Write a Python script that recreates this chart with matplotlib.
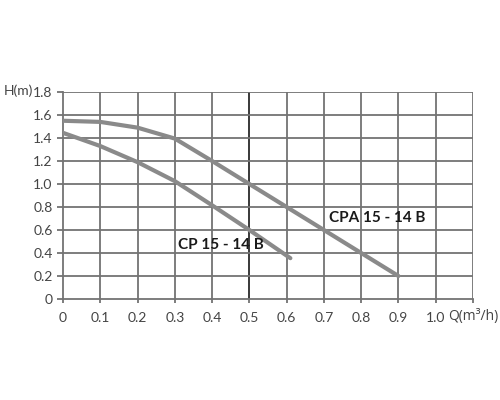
import matplotlib
matplotlib.use("Agg")
import matplotlib.pyplot as plt

# Data
cpa_q = [0.0, 0.1, 0.2, 0.3, 0.4, 0.5, 0.6, 0.7, 0.8, 0.9]
cpa_h = [1.55, 1.54, 1.49, 1.395, 1.2, 1.0, 0.8, 0.6, 0.4, 0.2]
cp_q = [0.0, 0.1, 0.2, 0.3, 0.4, 0.5, 0.61]
cp_h = [1.445, 1.33, 1.19, 1.025, 0.815, 0.6, 0.355]
x_ticks = [0, 0.1, 0.2, 0.3, 0.4, 0.5, 0.6, 0.7, 0.8, 0.9, 1.0, 1.1]
x_labels = ["0", "0.1", "0.2", "0.3", "0.4", "0.5", "0.6", "0.7", "0.8", "0.9", "1.0", ""]
y_ticks = [0, 0.2, 0.4, 0.6, 0.8, 1.0, 1.2, 1.4, 1.6, 1.8]
y_labels = ["0", "0.2", "0.4", "0.6", "0.8", "1.0", "1.2", "1.4", "1.6", "1.8"]

plt.rcParams['font.family'] = ['Lato', 'DejaVu Sans']

fig = plt.figure(figsize=(5, 4), dpi=100)
ax = fig.add_axes([0.126, 0.2525, 0.82, 0.5175])
ax.set_xlim(0, 1.1)
ax.set_ylim(0, 1.8)

gc = "#737373"
for x in x_ticks[1:]:
    ax.axvline(x, color="#2a2a2a" if abs(x - 0.5) < 1e-9 else gc, lw=1.3, zorder=1)
for y in y_ticks[1:]:
    ax.axhline(y, color=gc, lw=1.3, zorder=1)

ax.plot(cpa_q, cpa_h, color="#8a8a8a", lw=3, solid_capstyle="round", zorder=3)
ax.plot(cp_q, cp_h, color="#8a8a8a", lw=3, solid_capstyle="round", zorder=3)

ax.text(0.713, 0.70, "CPA 15 - 14 B", fontsize=11, fontweight="bold", color="#1a1a1a",
        va="center", ha="left", zorder=4)
ax.text(0.308, 0.47, "CP 15 - 14 B", fontsize=11, fontweight="bold", color="#1a1a1a",
        va="center", ha="left", zorder=4)

for s in ["top", "right"]:
    ax.spines[s].set_visible(False)
for s in ["left", "bottom"]:
    ax.spines[s].set_color(gc)
    ax.spines[s].set_linewidth(1.3)

ax.set_xticks(x_ticks)
ax.set_xticklabels(x_labels)
ax.set_yticks(y_ticks)
ax.set_yticklabels(y_labels)
ax.tick_params(axis="x", direction="out", length=3, width=1.3, color=gc,
               labelsize=10, labelcolor="#444444", pad=6.5)
ax.tick_params(axis="y", direction="out", length=4.5, width=1.3, color=gc,
               labelsize=10, labelcolor="#444444", pad=3)

ax.annotate("Q(m³/h)", xy=(1.0, 0), xycoords="data", xytext=(12, -10),
            textcoords="offset pixels", fontsize=10, color="#444444",
            family=["Open Sans", "DejaVu Sans"],
            ha="left", va="top", annotation_clip=False)
fig.text(0.066, 0.773, "H(m)", fontsize=10, color="#444444", ha="right", va="center")

fig.savefig("out.png", dpi=100, facecolor="white")
